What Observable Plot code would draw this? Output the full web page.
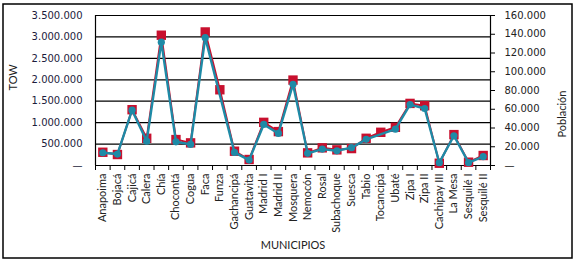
<!DOCTYPE html>
<html>
<head>
<meta charset="utf-8">
<script src="https://cdn.jsdelivr.net/npm/d3@7"></script>
<script src="https://cdn.jsdelivr.net/npm/@observablehq/plot@0.6"></script>
<style>
  html, body { margin: 0; padding: 0; background: #fff; }
  #chart { width: 576px; height: 262px; }
</style>
</head>
<body>
<div id="chart"></div>
<script>
const municipios = ["Anapoima","Bojacá","Cajicá","Calera","Chía","Chocontá","Cogua","Faca","Funza","Gachancipá","Guatavita","Madrid I","Madrid II","Mosquera","Nemocón","Rosal","Subachoque","Suesca","Tabio","Tocancipá","Ubaté","Zipa I","Zipa II","Cachipay III","La Mesa","Sesquilé I","Sesquilé II"];
const tow = [309000,256000,1302000,635000,3040000,605000,528000,3116000,1767000,333000,140000,1007000,791000,1993000,295000,412000,365000,395000,635000,775000,891000,1449000,1395000,53000,721000,77000,233000];
const poblacion = [13600,12200,59000,26000,131600,25300,22500,136300,null,14000,5800,43800,34200,86600,13000,17500,15700,19000,27900,null,38800,65000,60800,3000,31700,3000,9400];
const towTicks = [0,500000,1000000,1500000,2000000,2500000,3000000,3500000];
const pobTicks = [0,20000,40000,60000,80000,100000,120000,140000,160000];

const towMax = 3500000, pobMax = 160000;
const k = towMax / pobMax;
const loc = d3.formatLocale({decimal: ",", thousands: ".", grouping: [3], currency: ["$", ""]});
const fmt = loc.format(",");
const lab = v => v === 0 ? "—" : fmt(v);

const data = municipios.map((m, i) => ({i, m, tow: tow[i], pob: poblacion[i]}));
const pobData = data.filter(d => d.pob != null);
const boundaries = d3.range(municipios.length + 1).map(j => j - 0.5);

const RED = "#C8102E", TEAL = "#1E8AA6";
const numFont = "DejaVu Sans, sans-serif";

const chart = Plot.plot({
  width: 576, height: 262,
  marginLeft: 95, marginRight: 86, marginTop: 15, marginBottom: 97,
  style: {fontFamily: "Lato, sans-serif", fontSize: "11px", color: "#222", background: "#fff"},
  x: {type: "linear", domain: [-0.5, municipios.length - 0.5]},
  y: {domain: [0, towMax]},
  marks: [
    Plot.gridY(towTicks, {stroke: "#000", strokeOpacity: 1, strokeWidth: 1.2}),
    Plot.ruleX([-0.5, municipios.length - 0.5], {stroke: "#000", strokeWidth: 1.2}),
    Plot.axisY({ticks: towTicks, tickFormat: lab, tickSize: 0, tickPadding: 13, label: null,
      fontFamily: numFont, fontSize: 10, fill: "#1c1c3c"}),
    Plot.axisY({anchor: "right", ticks: pobTicks.map(v => v * k), tickFormat: v => lab(Math.round(v / k)),
      tickSize: 4, tickPadding: 10, label: null, fontFamily: numFont, fontSize: 10, fill: "#222", stroke: "#000"}),
    Plot.axisX({ticks: boundaries, tickFormat: () => "", tickSize: 5, label: null, stroke: "#000"}),
    Plot.axisX({ticks: d3.range(municipios.length), tickFormat: i => municipios[i], tickSize: 0,
      tickPadding: 8, tickRotate: -90, label: null, fontSize: 11, fill: "#222"}),
    Plot.text(["TOW"], {frameAnchor: "left", dx: -82, rotate: -90, fontSize: 11, fill: "#222"}),
    Plot.text(["Población"], {frameAnchor: "right", dx: 72, rotate: -90, fontSize: 11, fill: "#222"}),
    Plot.text(["MUNICIPIOS"], {frameAnchor: "bottom", dy: 83, fontSize: 11, fill: "#222"}),
    Plot.line(data, {x: "i", y: "tow", stroke: RED, strokeWidth: 2}),
    Plot.dot(data, {x: "i", y: "tow", symbol: "square", r: 5.3, fill: RED, stroke: "none"}),
    Plot.line(pobData, {x: "i", y: d => d.pob * k, stroke: TEAL, strokeWidth: 2.4}),
    Plot.dot(pobData, {x: "i", y: d => d.pob * k, r: 3.6, fill: TEAL, stroke: "none"})
  ]
});

d3.select(chart).append("rect")
  .attr("x", 3).attr("y", 4).attr("width", 569).attr("height", 254)
  .attr("fill", "none").attr("stroke", "#000").attr("stroke-width", 1.5);

document.getElementById("chart").appendChild(chart);
</script>
</body>
</html>
